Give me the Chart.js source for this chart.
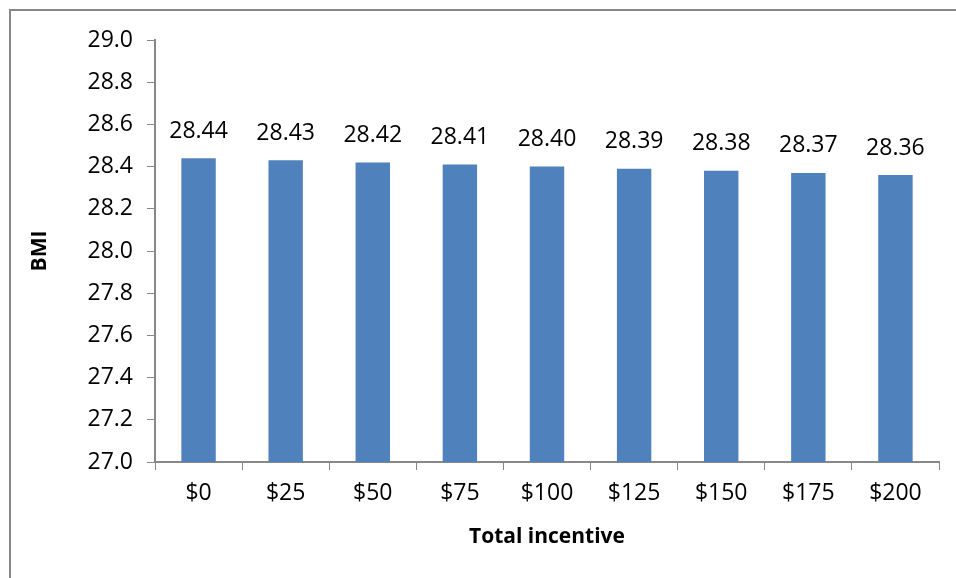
<!DOCTYPE html>
<html>
<head>
<meta charset="utf-8">
<script src="https://cdn.jsdelivr.net/npm/chart.js@4"></script>
<style>
  body { margin: 0; background: #fff; }
  #wrap { position: relative; width: 956px; height: 578px; }
  #frame { position: absolute; left: 9px; top: 9px; right: 0; bottom: 0;
           border-top: 2px solid #888; border-left: 2px solid #888; }
  canvas { position: absolute; left: 0; top: 0; }
</style>
</head>
<body>
<div id="wrap">
  <div id="frame"></div>
  <canvas id="grafico" width="956" height="578"></canvas>
</div>
<script>
const categorias = ['$0', '$25', '$50', '$75', '$100', '$125', '$150', '$175', '$200'];
const valoresBMI = [28.44, 28.43, 28.42, 28.41, 28.40, 28.39, 28.38, 28.37, 28.36];
const ejeMin = 27.0;
const ejeMax = 29.0;
const ejePaso = 0.2;

const fuente = '"Open Sans", sans-serif';

// etiquetas de valor sobre cada barra
const etiquetasBarras = {
    id: 'etiquetasBarras',
    afterDatasetsDraw(chart) {
        const ctx = chart.ctx;
        const meta = chart.getDatasetMeta(0);
        ctx.save();
        ctx.font = '23px ' + fuente;
        ctx.fillStyle = '#000';
        ctx.textAlign = 'center';
        ctx.textBaseline = 'middle';
        meta.data.forEach((bar, i) => {
            ctx.fillText(valoresBMI[i].toFixed(2), bar.x, bar.y - 27);
        });
        ctx.restore();
    }
};

const ctx = document.getElementById('grafico').getContext('2d');
new Chart(ctx, {
    type: 'bar',
    data: {
        labels: categorias,
        datasets: [{
            data: valoresBMI,
            backgroundColor: '#4F81BD',
            borderWidth: 0,
            categoryPercentage: 1,
            barPercentage: 0.395
        }]
    },
    options: {
        responsive: false,
        animation: false,
        layout: { padding: { top: 40, right: 17, left: 0, bottom: 0 } },
        plugins: { legend: { display: false }, tooltip: { enabled: false } },
        scales: {
            x: {
                grid: { drawOnChartArea: false, drawTicks: true, tickLength: 8, color: '#888', offset: true },
                border: { color: '#888', width: 2 },
                ticks: { color: '#000', font: { family: fuente, size: 23 }, padding: 10, maxRotation: 0 },
                title: { display: true, text: 'Total incentive', color: '#000',
                         font: { family: fuente, size: 21, weight: 'bold' }, padding: { top: 0, bottom: 28 } },
                afterFit(scale) { scale.height = 116; }
            },
            y: {
                min: ejeMin,
                max: ejeMax,
                grid: { drawOnChartArea: false, drawTicks: true, tickLength: 8, color: '#888' },
                border: { color: '#888', width: 2 },
                ticks: { stepSize: ejePaso, color: '#000', font: { family: fuente, size: 23 }, padding: 14,
                         callback: v => Number(v).toFixed(1) },
                title: { display: true, text: 'BMI', color: '#000',
                         font: { family: fuente, size: 21, weight: 'bold' }, padding: { top: 27, bottom: 0 } },
                afterFit(scale) { scale.width = 155; }
            }
        }
    },
    plugins: [etiquetasBarras]
});
</script>
</body>
</html>
